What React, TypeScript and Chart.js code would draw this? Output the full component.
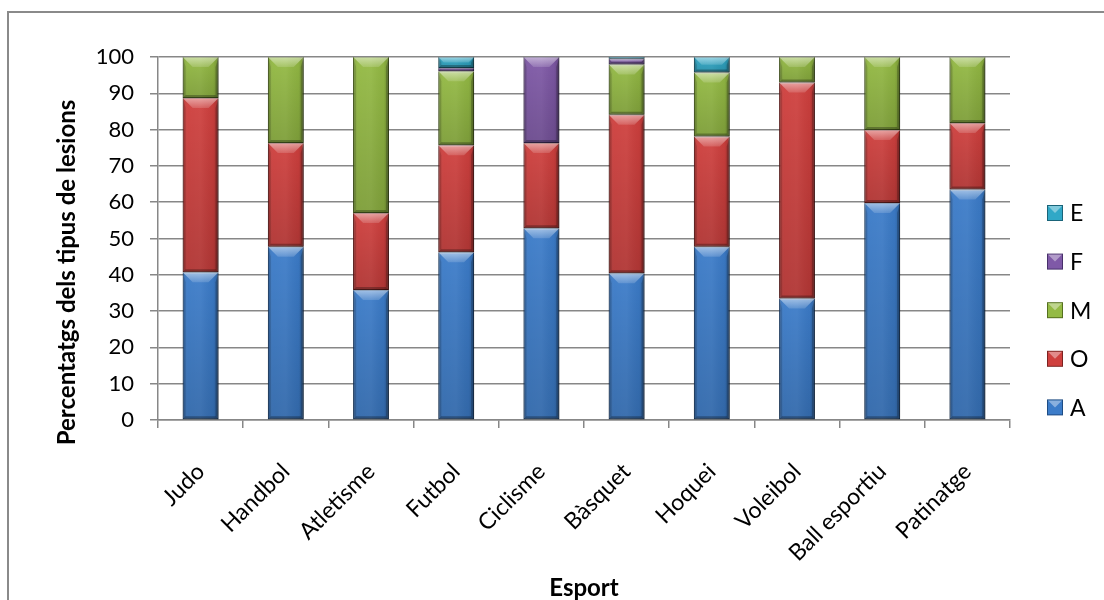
import React, { useEffect, useRef } from "react";
import { Chart, registerables } from "chart.js";

Chart.register(...registerables);

// Sports on the category axis
const sports = [
  "Judo",
  "Handbol",
  "Atletisme",
  "Futbol",
  "Ciclisme",
  "Bàsquet",
  "Hoquei",
  "Voleibol",
  "Ball esportiu",
  "Patinatge",
];

// Percentage of each injury type per sport (stacked to 100)
const seriesA = [40.7, 47.7, 35.8, 46.2, 52.8, 40.4, 47.7, 33.5, 59.8, 63.5];
const seriesO = [48.0, 28.6, 21.2, 29.5, 23.5, 43.7, 30.4, 59.5, 20.1, 18.3];
const seriesM = [11.3, 23.7, 43.0, 20.4, null, 13.8, 17.6, 7.0, 20.1, 18.2];
const seriesF = [null, null, null, 0.9, 23.7, 1.6, null, null, null, null];
const seriesE = [null, null, null, 3.0, null, 0.5, 4.3, null, null, null];

const seriesNames = ["A", "O", "M", "F", "E"];
const seriesFill = ["#3C7CC9", "#CF403E", "#94BA44", "#7F59A7", "#30A8C7"];
const seriesEdge = ["#1E4C84", "#7C2220", "#55701F", "#47306A", "#1A6479"];

const yMin = 0;
const yMax = 100;
const yStep = 10;

const axisTitleY = "Percentatgs dels tipus de lesions";
const axisTitleX = "Esport";

const FONT = "Lato, 'Open Sans', sans-serif";
const GRID = "#878787";

// Frame around the whole chart
const framePlugin = {
  id: "frame",
  beforeDraw(chart: any) {
    const ctx = chart.ctx;
    ctx.save();
    ctx.strokeStyle = "#8a8a8a";
    ctx.lineWidth = 2;
    ctx.strokeRect(8, 12, 1300, 800);
    ctx.restore();
  },
};

// Vertical value-axis title, centred under the whole left column
const yTitlePlugin = {
  id: "yTitle",
  afterDraw(chart: any) {
    const ctx = chart.ctx;
    ctx.save();
    ctx.translate(67, 272.5);
    ctx.rotate(-Math.PI / 2);
    ctx.font = `bold 24px ${FONT}`;
    ctx.fillStyle = "#000";
    ctx.textAlign = "center";
    ctx.textBaseline = "middle";
    ctx.fillText(axisTitleY, 0, 0);
    ctx.restore();
  },
};

// Soft shadow to the right of each bar, plus a bevelled look on top of the flat fill
const bevelPlugin = {
  id: "bevel",
  beforeDatasetsDraw(chart: any) {
    const ctx = chart.ctx;
    ctx.save();
    ctx.shadowColor = "rgba(0,0,0,0.28)";
    ctx.shadowBlur = 7;
    ctx.shadowOffsetX = 3;
    ctx.shadowOffsetY = 1;
  },
  afterDatasetsDraw(chart: any) {
    const ctx = chart.ctx;
    ctx.restore();
    ctx.save();
    chart.getSortedVisibleDatasetMetas().forEach((meta: any) => {
      meta.data.forEach((el: any, i: number) => {
        const v = chart.data.datasets[meta.index].data[i];
        if (v === null || v === undefined) return;
        const p = el.getProps(["x", "y", "base", "width"], true);
        const left = p.x - p.width / 2;
        const right = p.x + p.width / 2;
        const top = Math.min(p.y, p.base);
        const bottom = Math.max(p.y, p.base);
        const h = bottom - top;
        if (h < 0.5) return;
        const w = right - left;

        // left-to-right shading
        const hg = ctx.createLinearGradient(left, 0, right, 0);
        hg.addColorStop(0, "rgba(0,0,0,0.16)");
        hg.addColorStop(0.15, "rgba(255,255,255,0.04)");
        hg.addColorStop(0.5, "rgba(255,255,255,0.06)");
        hg.addColorStop(0.85, "rgba(0,0,0,0.04)");
        hg.addColorStop(1, "rgba(0,0,0,0.22)");
        ctx.fillStyle = hg;
        ctx.fillRect(left, top, w, h);

        // slight darkening toward the bottom of each segment
        const vg = ctx.createLinearGradient(0, top, 0, bottom);
        vg.addColorStop(0, "rgba(0,0,0,0)");
        vg.addColorStop(1, "rgba(0,0,0,0.14)");
        ctx.fillStyle = vg;
        ctx.fillRect(left, top, w, h);

        const b = Math.min(10, h / 2, w / 2);
        const s = Math.min(3, h / 2);
        // top bevel
        ctx.beginPath();
        ctx.moveTo(left, top);
        ctx.lineTo(right, top);
        ctx.lineTo(right - b, top + b);
        ctx.lineTo(left + b, top + b);
        ctx.closePath();
        const tg = ctx.createLinearGradient(0, top, 0, top + b);
        tg.addColorStop(0, "rgba(255,255,255,0.5)");
        tg.addColorStop(1, "rgba(255,255,255,0.14)");
        ctx.fillStyle = tg;
        ctx.fill();
        // bottom bevel
        ctx.beginPath();
        ctx.moveTo(left, bottom);
        ctx.lineTo(right, bottom);
        ctx.lineTo(right - s, bottom - s);
        ctx.lineTo(left + s, bottom - s);
        ctx.closePath();
        ctx.fillStyle = "rgba(0,0,0,0.28)";
        ctx.fill();
        // side bevels
        ctx.beginPath();
        ctx.moveTo(left, top);
        ctx.lineTo(left + s, top + b);
        ctx.lineTo(left + s, bottom - s);
        ctx.lineTo(left, bottom);
        ctx.closePath();
        ctx.fillStyle = "rgba(0,0,0,0.12)";
        ctx.fill();
        ctx.beginPath();
        ctx.moveTo(right, top);
        ctx.lineTo(right - s, top + b);
        ctx.lineTo(right - s, bottom - s);
        ctx.lineTo(right, bottom);
        ctx.closePath();
        ctx.fillStyle = "rgba(0,0,0,0.22)";
        ctx.fill();
      });
    });
    ctx.restore();
  },
};

// Legend on the right, listed top to bottom in reverse stacking order
const legendPlugin = {
  id: "sideLegend",
  afterDraw(chart: any) {
    const ctx = chart.ctx;
    const sets = chart.data.datasets.slice().reverse();
    const boxX = 1047;
    const box = 16;
    const y0 = 213;
    const gap = 48.6;
    ctx.save();
    ctx.font = `23px ${FONT}`;
    ctx.textBaseline = "middle";
    ctx.textAlign = "left";
    sets.forEach((ds: any, i: number) => {
      const cy = y0 + i * gap;
      const top = cy - box / 2;
      ctx.fillStyle = ds.borderColor;
      ctx.fillRect(boxX, top, box, box);
      ctx.fillStyle = ds.backgroundColor;
      ctx.fillRect(boxX + 1, top + 1, box - 2, box - 2);
      ctx.beginPath();
      ctx.moveTo(boxX + 1, top + 1);
      ctx.lineTo(boxX + box - 1, top + 1);
      ctx.lineTo(boxX + box / 2, top + box / 2);
      ctx.closePath();
      ctx.fillStyle = "rgba(255,255,255,0.4)";
      ctx.fill();
      ctx.fillStyle = "#000";
      ctx.fillText(ds.label, boxX + box + 7, cy + 1);
    });
    ctx.restore();
  },
};

export default function App() {
  const canvasRef = useRef<HTMLCanvasElement | null>(null);

  useEffect(() => {
    const canvas = canvasRef.current;
    if (!canvas) return;
    const values = [seriesA, seriesO, seriesM, seriesF, seriesE];
    const chart = new Chart(canvas, {
      type: "bar",
      data: {
        labels: sports,
        datasets: values.map((data, k) => ({
          label: seriesNames[k],
          data: data as any,
          backgroundColor: seriesFill[k],
          borderColor: seriesEdge[k],
          borderWidth: 1,
          borderSkipped: false,
          barPercentage: 0.42,
          categoryPercentage: 1,
        })),
      },
      options: {
        responsive: false,
        animation: false,
        layout: { padding: { top: 57, right: 94, bottom: 0, left: 0 } },
        plugins: {
          legend: { display: false },
          tooltip: { enabled: false },
        },
        scales: {
          x: {
            stacked: true,
            afterFit: (scale: any) => {
              scale.height = 180;
            },
            grid: {
              display: true,
              drawOnChartArea: false,
              drawTicks: true,
              tickLength: 8,
              offset: true,
              color: GRID,
              lineWidth: 1.5,
            },
            border: { display: true, color: GRID, width: 1.5 },
            ticks: {
              autoSkip: false,
              maxRotation: 45,
              minRotation: 45,
              padding: 30,
              color: "#000",
              font: { family: FONT, size: 23 },
            },
            title: {
              display: true,
              text: axisTitleX,
              color: "#000",
              font: { family: FONT, size: 24, weight: "bold" },
              padding: { top: 0, bottom: -3 },
            },
          },
          y: {
            stacked: true,
            min: yMin,
            max: yMax,
            afterFit: (scale: any) => {
              scale.width = 158;
            },
            grid: {
              color: GRID,
              lineWidth: 1.5,
              tickLength: 8,
              drawTicks: true,
            },
            border: { display: true, color: GRID, width: 1.5 },
            ticks: {
              stepSize: yStep,
              padding: 16,
              color: "#000",
              font: { family: FONT, size: 22 },
            },
            title: { display: false },
          },
        },
      },
      plugins: [framePlugin, bevelPlugin, legendPlugin, yTitlePlugin],
    });
    return () => chart.destroy();
  }, []);

  return (
    <div style={{ position: "absolute", left: 0, top: 0, width: 1104, height: 600, overflow: "hidden", background: "#fff" }}>
      <canvas ref={canvasRef} width={1104} height={600} style={{ display: "block" }} />
    </div>
  );
}
